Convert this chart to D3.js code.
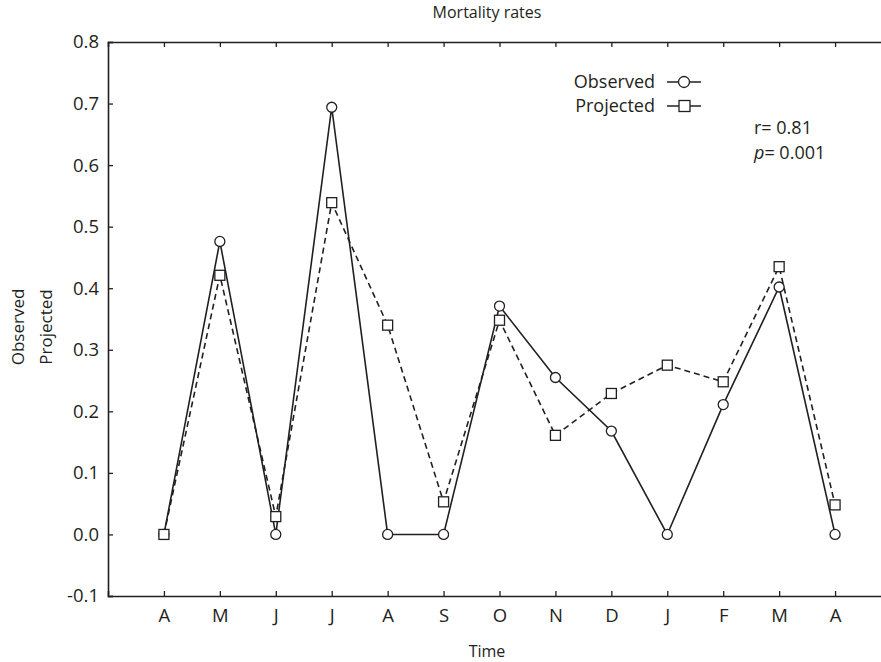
<!DOCTYPE html>
<html>
<head>
<meta charset="utf-8">
<script src="https://cdn.jsdelivr.net/npm/d3@7"></script>
<style>
  body { margin: 0; background: #fff; }
  svg, svg text { font-family: "Open Sans", sans-serif; }
</style>
</head>
<body>
<div id="chart"></div>
<script>
const months = ["A", "M", "J", "J", "A", "S", "O", "N", "D", "J", "F", "M", "A"];
const observed = [0.0, 0.476, 0.0, 0.694, 0.0, 0.0, 0.371, 0.255, 0.168, 0.0, 0.211, 0.402, 0.0];
const projected = [0.0, 0.421, 0.029, 0.539, 0.340, 0.053, 0.348, 0.161, 0.229, 0.275, 0.248, 0.435, 0.048];
const yTicks = [-0.1, 0.0, 0.1, 0.2, 0.3, 0.4, 0.5, 0.6, 0.7, 0.8];

const width = 881, height = 662;
const margin = { top: 42, left: 108, bottom: 66, right: -10 }; // right edge runs off the page
const ink = "#231f20";

const svg = d3.select("#chart").append("svg")
  .attr("width", width)
  .attr("height", height);

const x = d3.scalePoint()
  .domain(d3.range(months.length))
  .range([margin.left, width - margin.right])
  .padding(1);

const y = d3.scaleLinear()
  .domain([-0.1, 0.8])
  .range([height - margin.bottom, margin.top]);

// axes, ticks pointing inward
const xAxis = d3.axisBottom(x).tickSize(-5).tickPadding(13).tickFormat(i => months[i]);
const gx = svg.append("g")
  .attr("transform", `translate(0,${height - margin.bottom})`)
  .call(xAxis);

const gTop = svg.append("g")
  .attr("transform", `translate(0,${margin.top})`)
  .call(d3.axisTop(x).tickSize(-5).tickFormat(""));

const gy = svg.append("g")
  .attr("transform", `translate(${margin.left},0)`)
  .call(d3.axisLeft(y).tickValues(yTicks).tickSize(-5).tickPadding(9)
    .tickFormat(d => d.toFixed(1)));

[gx, gTop, gy].forEach(g => {
  g.attr("font-family", null);
  g.select(".domain").attr("stroke", ink).attr("stroke-width", 1.6);
  g.selectAll(".tick line").attr("stroke", ink).attr("stroke-width", 1.3);
  g.selectAll(".tick text").attr("fill", ink).style("font-size", "18.5px");
});

// lines
const line = d3.line().x((d, i) => x(i)).y(d => y(d));

svg.append("path")
  .datum(observed)
  .attr("fill", "none")
  .attr("stroke", ink)
  .attr("stroke-width", 1.6)
  .attr("d", line);

svg.append("path")
  .datum(projected)
  .attr("fill", "none")
  .attr("stroke", ink)
  .attr("stroke-width", 1.6)
  .attr("stroke-dasharray", "6,4")
  .attr("d", line);

// markers
svg.append("g").selectAll("circle")
  .data(observed)
  .join("circle")
  .attr("cx", (d, i) => x(i))
  .attr("cy", d => y(d))
  .attr("r", 5)
  .attr("fill", "#fff")
  .attr("stroke", ink)
  .attr("stroke-width", 1.3);

const s = 10;
svg.append("g").selectAll("rect")
  .data(projected)
  .join("rect")
  .attr("x", (d, i) => x(i) - s / 2)
  .attr("y", d => y(d) - s / 2)
  .attr("width", s)
  .attr("height", s)
  .attr("fill", "#fff")
  .attr("stroke", ink)
  .attr("stroke-width", 1.3);

// titles
svg.append("text")
  .attr("x", 487).attr("y", 18)
  .attr("text-anchor", "middle")
  .attr("fill", ink)
  .style("font-size", "16px")
  .text("Mortality rates");

svg.append("text")
  .attr("x", 487).attr("y", 657)
  .attr("text-anchor", "middle")
  .attr("fill", ink)
  .style("font-size", "16px")
  .text("Time");

svg.append("text")
  .attr("transform", "translate(24,327) rotate(-90)")
  .attr("text-anchor", "middle")
  .attr("fill", ink)
  .style("font-size", "17px")
  .text("Observed");

svg.append("text")
  .attr("transform", "translate(52,327) rotate(-90)")
  .attr("text-anchor", "middle")
  .attr("fill", ink)
  .style("font-size", "17px")
  .text("Projected");

// legend
const legend = svg.append("g");
const rows = [{ label: "Observed", shape: "circle", y: 82 }, { label: "Projected", shape: "square", y: 106 }];
rows.forEach(r => {
  legend.append("text")
    .attr("x", 655).attr("y", r.y + 6)
    .attr("text-anchor", "end")
    .attr("fill", ink)
    .style("font-size", "18px")
    .text(r.label);
  legend.append("line")
    .attr("x1", 667).attr("x2", 701)
    .attr("y1", r.y).attr("y2", r.y)
    .attr("stroke", ink).attr("stroke-width", 1.3);
  if (r.shape === "circle") {
    legend.append("circle")
      .attr("cx", 684).attr("cy", r.y).attr("r", 5.5)
      .attr("fill", "#fff").attr("stroke", ink).attr("stroke-width", 1.3);
  } else {
    legend.append("rect")
      .attr("x", 679).attr("y", r.y - 5.5).attr("width", 11).attr("height", 11)
      .attr("fill", "#fff").attr("stroke", ink).attr("stroke-width", 1.3);
  }
});

// stats
svg.append("text")
  .attr("x", 754).attr("y", 134)
  .attr("fill", ink)
  .style("font-size", "18px")
  .text("r= 0.81");

const pt = svg.append("text")
  .attr("x", 754).attr("y", 159)
  .attr("fill", ink)
  .style("font-size", "18px");
pt.append("tspan").style("font-style", "italic").text("p");
pt.append("tspan").text("= 0.001");
</script>
</body>
</html>
